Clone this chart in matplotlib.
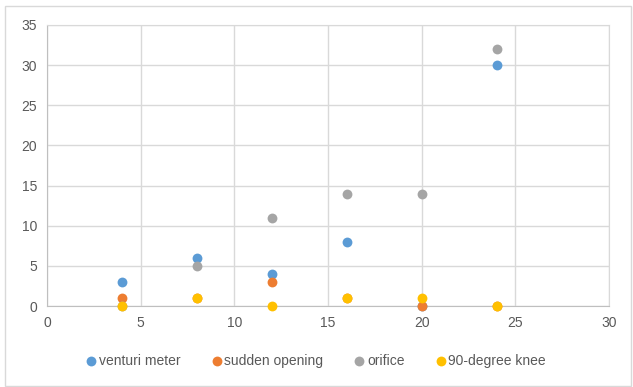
import matplotlib.pyplot as plt
from matplotlib.patches import Rectangle

# pipe-fitting losses measured at each flow setting
flow = [4, 8, 12, 16, 20, 24]
venturi_meter = [3, 6, 4, 8, 0, 30]
sudden_opening = [1, 1, 3, 1, 0, 0]
orifice = [0, 5, 11, 14, 14, 32]
knee_90 = [0, 1, 0, 1, 1, 0]

series = [
    ("venturi meter", venturi_meter, "#5B9BD5"),
    ("sudden opening", sudden_opening, "#ED7D31"),
    ("orifice", orifice, "#A5A5A5"),
    ("90-degree knee", knee_90, "#FFC000"),
]

plt.rcParams["font.family"] = ["Liberation Sans", "DejaVu Sans"]
fig = plt.figure(figsize=(6.33, 3.87), dpi=100)
ax = fig.add_axes([47 / 633, 1 - 306 / 387, 562 / 633, 281 / 387])

for name, vals, col in series:
    ax.scatter(flow, vals, s=50, color=col, label=name, zorder=3,
               linewidths=0, clip_on=False)

ax.set_xlim(0, 30)
ax.set_ylim(0, 35)
ax.set_xticks(range(0, 31, 5))
ax.set_yticks(range(0, 36, 5))
ax.grid(True, color="#d9d9d9", linewidth=1)
ax.set_axisbelow(True)
for side in ["top", "right"]:
    ax.spines[side].set_color("#d9d9d9")
for side in ["left", "bottom"]:
    ax.spines[side].set_color("#bfbfbf")
ax.tick_params(length=0, colors="#595959", labelsize=10, pad=7)

fig.legend(loc="center", bbox_to_anchor=(0.5, 1 - 361 / 387), ncol=4,
           frameon=False, fontsize=10, labelcolor="#595959",
           handlelength=0.6, handletextpad=0.25, columnspacing=2.3)

# light chart-area border
fig.patches.append(Rectangle((5 / 633, 1 / 387), 626 / 633, 380 / 387,
                             transform=fig.transFigure, fill=False,
                             edgecolor="#d9d9d9", linewidth=1))

fig.savefig("out.png", dpi=100)
